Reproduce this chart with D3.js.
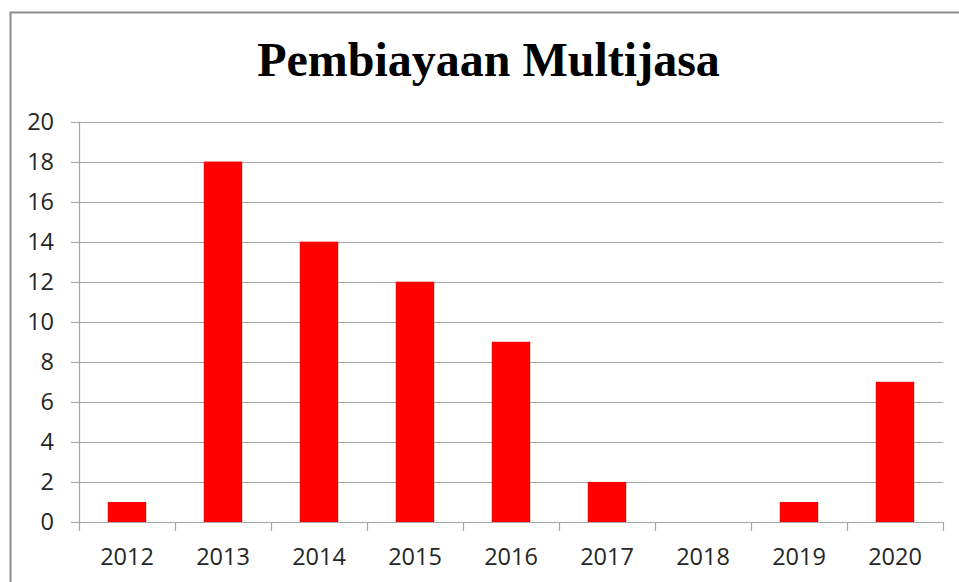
<!DOCTYPE html>
<html>
<head>
<meta charset="utf-8">
<script src="https://cdn.jsdelivr.net/npm/d3@7"></script>
<style>
  html, body { margin: 0; padding: 0; background: #fff; }
  svg { display: block; }
</style>
</head>
<body>
<svg width="959" height="582"></svg>
<script>
const years = ["2012", "2013", "2014", "2015", "2016", "2017", "2018", "2019", "2020"];
const counts = [1, 18, 14, 12, 9, 2, 0, 1, 7];
const yTicks = [0, 2, 4, 6, 8, 10, 12, 14, 16, 18, 20];
const title = "Pembiayaan Multijasa";

const svg = d3.select("svg");
const width = +svg.attr("width");
const height = +svg.attr("height");

const plot = { left: 79, right: 943, top: 121.5, bottom: 522 };
const labelFont = "'Open Sans', 'Noto Sans', sans-serif";

// chart frame, runs off the right and bottom of the picture
svg.append("rect")
    .attr("x", 10.5)
    .attr("y", 12.5)
    .attr("width", width + 20)
    .attr("height", height + 20)
    .attr("fill", "none")
    .attr("stroke", "#8c8c8c")
    .attr("stroke-width", 2);

svg.append("text")
    .attr("x", 488.5)
    .attr("y", 76)
    .attr("text-anchor", "middle")
    .attr("font-family", "'Liberation Serif', 'Times New Roman', serif")
    .attr("font-weight", "bold")
    .attr("font-size", 48)
    .attr("fill", "#000")
    .text(title);

const x = d3.scaleBand()
    .domain(years)
    .range([plot.left, plot.right])
    .paddingInner(0.6)
    .paddingOuter(0.3);

const y = d3.scaleLinear()
    .domain([0, 20])
    .range([plot.bottom, plot.top]);

// gridlines
svg.append("g")
    .selectAll("line")
    .data(yTicks)
    .enter()
    .append("line")
    .attr("x1", plot.left - 8)
    .attr("x2", plot.right)
    .attr("y1", d => Math.round(y(d)) + 0.5)
    .attr("y2", d => Math.round(y(d)) + 0.5)
    .attr("stroke", "#a6a6a6")
    .attr("stroke-width", 1.2);

// y axis line
svg.append("line")
    .attr("x1", plot.left + 0.5)
    .attr("x2", plot.left + 0.5)
    .attr("y1", y(20))
    .attr("y2", plot.bottom)
    .attr("stroke", "#a6a6a6")
    .attr("stroke-width", 1.2);

// category boundary ticks
const step = x.step();
const bounds = d3.range(years.length + 1).map(i => plot.left + i * step);
svg.append("g")
    .selectAll("line")
    .data(bounds)
    .enter()
    .append("line")
    .attr("x1", d => Math.round(d) + 0.5)
    .attr("x2", d => Math.round(d) + 0.5)
    .attr("y1", plot.bottom)
    .attr("y2", plot.bottom + 9)
    .attr("stroke", "#a6a6a6")
    .attr("stroke-width", 1.2);

// bars
svg.append("g")
    .selectAll("rect")
    .data(years.map((yr, i) => ({ year: yr, value: counts[i] })))
    .enter()
    .append("rect")
    .attr("x", d => x(d.year))
    .attr("y", d => y(d.value))
    .attr("width", x.bandwidth())
    .attr("height", d => plot.bottom - y(d.value))
    .attr("fill", "#ff0000");

// y labels
const yAxis = svg.append("g")
    .attr("transform", `translate(${plot.left - 25},0)`)
    .call(d3.axisLeft(y).tickValues(yTicks).tickSize(0).tickPadding(0));
yAxis.select(".domain").remove();
yAxis.selectAll("text")
    .attr("font-family", labelFont)
    .attr("font-size", 23.5)
    .attr("fill", "#262626");

// x labels
const xAxis = svg.append("g")
    .attr("transform", `translate(0,${plot.bottom})`)
    .call(d3.axisBottom(x).tickSize(0).tickPadding(26));
xAxis.select(".domain").remove();
xAxis.selectAll("text")
    .attr("font-family", labelFont)
    .attr("font-size", 23.5)
    .attr("fill", "#262626");
</script>
</body>
</html>
